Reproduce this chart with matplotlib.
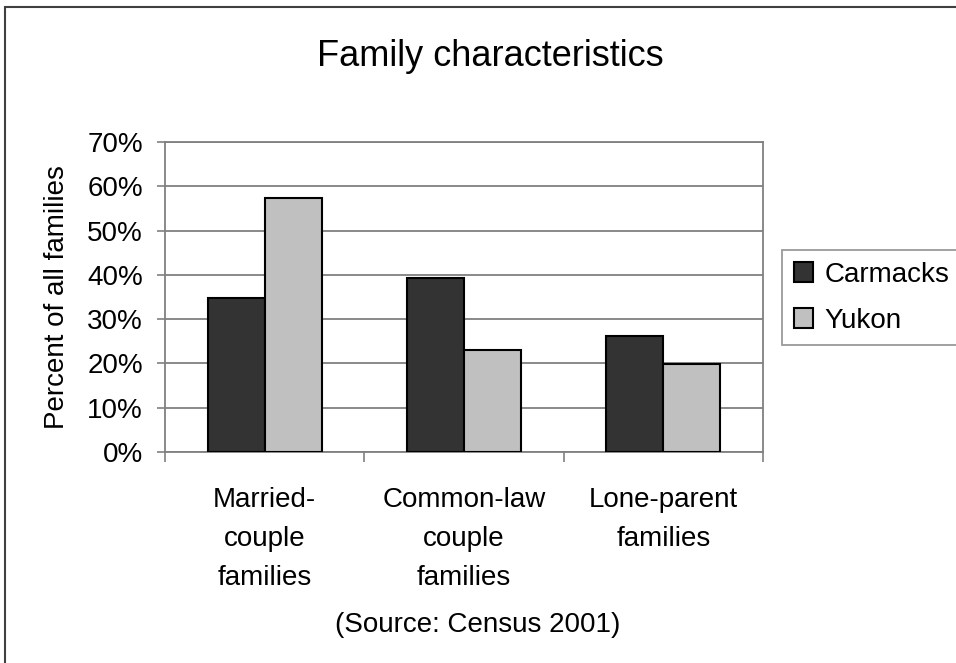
import matplotlib.pyplot as plt
import numpy as np
from matplotlib.patches import Rectangle

plt.rcParams["font.family"] = ["Liberation Sans", "DejaVu Sans"]

categories = ["Married-\ncouple\nfamilies", "Common-law\ncouple\nfamilies", "Lone-parent\nfamilies"]
series_names = ["Carmacks", "Yukon"]
carmacks = [34.8, 39.3, 26.2]
yukon = [57.4, 23.0, 19.9]
yticks = [0, 10, 20, 30, 40, 50, 60, 70]
colors = ["#333333", "#c0c0c0"]


def main():
    W, H = 956, 663
    fig = plt.figure(figsize=(W / 100, H / 100), dpi=100)
    ax = fig.add_axes([165 / W, 1 - 452 / H, 598 / W, 310 / H])

    x = np.arange(len(categories))
    width = 1 / 3.5
    for i, (vals, name) in enumerate(zip([carmacks, yukon], series_names)):
        ax.bar(x + (i - 0.5) * width, vals, width, color=colors[i],
               edgecolor="black", linewidth=1.5, label=name, zorder=3)

    ax.set_xlim(-0.5, len(categories) - 0.5)
    ax.set_ylim(0, 70)
    ax.set_yticks(yticks)
    ax.set_yticklabels([f"{t}%" for t in yticks], fontsize=20)
    ax.grid(axis="y", color="#808080", linewidth=1.3, zorder=0)

    ax.set_xticks(x)
    ax.set_xticklabels(categories, fontsize=20, linespacing=1.65)
    ax.set_xticks(np.arange(len(categories) + 1) - 0.5, minor=True)
    ax.tick_params(axis="x", which="major", length=0, pad=25)
    ax.tick_params(axis="x", which="minor", length=7, width=1.2, color="#808080", direction="out")
    ax.tick_params(axis="y", length=6, width=1.2, color="#808080", direction="out", pad=10)

    for s in ["left", "bottom", "right", "top"]:
        ax.spines[s].set_color("#808080")
        ax.spines[s].set_linewidth(1.3)

    fig.text(490 / W, 1 - 66 / H, "Family characteristics", fontsize=26,
             ha="center", va="baseline")
    fig.text(57 / W, 1 - 297 / H, "Percent of all families", fontsize=20,
             rotation=90, ha="center", va="center")
    fig.text(478 / W, 1 - 632 / H, "(Source: Census 2001)", fontsize=20,
             ha="center", va="baseline")

    leg = ax.legend(loc="upper left", bbox_to_anchor=(782 / W, 1 - 250 / H),
                    bbox_transform=fig.transFigure, fontsize=20, frameon=True,
                    fancybox=False, edgecolor="#808080", borderaxespad=0,
                    handlelength=0.7, handleheight=0.7, handletextpad=0.4,
                    borderpad=0.42, labelspacing=0.72)
    leg.get_frame().set_linewidth(1.3)

    fig.patches.append(Rectangle((5 / W, -0.1), 1.2, 1.1 - 7 / H, fill=False,
                                 edgecolor="#404040", linewidth=1.5,
                                 transform=fig.transFigure))

    fig.savefig("out.png", dpi=100)


if __name__ == "__main__":
    main()
